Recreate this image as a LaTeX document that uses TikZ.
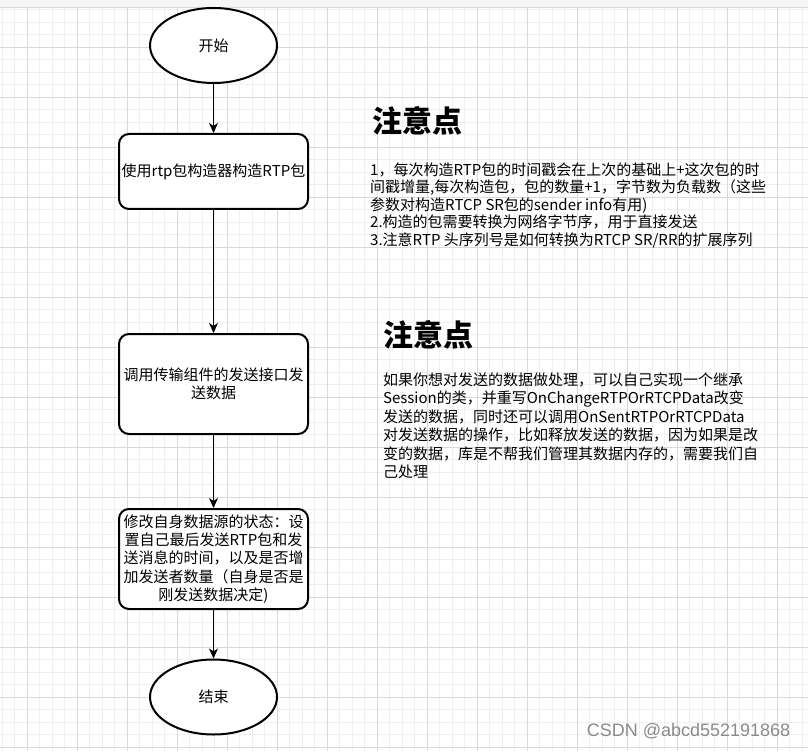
\documentclass[tikz,border=0pt]{standalone}
\usepackage{fontspec}
\newfontfamily\cjk{Noto Sans CJK SC}
\newfontfamily\wmfont{Liberation Sans}
\usetikzlibrary{shapes.geometric}
\usetikzlibrary{arrows.meta}
\definecolor{gridmajor}{HTML}{D9D9D9}
\definecolor{gridminor}{HTML}{EFEFEF}
\definecolor{topband}{HTML}{F6F6F6}
\definecolor{wmgray}{HTML}{8A8A8A}

\begin{document}
\begin{tikzpicture}[x=1pt, y=-1pt,
	term/.style = {draw=black, line width=2pt, fill=white, ellipse, minimum width=127pt, minimum height=75pt, inner sep=0pt, font=\cjk\fontsize{15}{18}\selectfont},
	proc/.style = {draw=black, line width=2pt, fill=white, rounded corners=10pt, minimum width=189pt, inner sep=2pt, align=center, font=\cjk\fontsize{15}{18.3}\selectfont},
	flow/.style = {line width=1.2pt, -{Stealth[length=10pt, width=9pt, inset=3pt]}},
	title/.style = {anchor=west, inner sep=0pt, font=\cjk\bfseries\fontsize{30}{36}\selectfont},
	note/.style = {anchor=north west, inner sep=0pt, align=left},
	minorline/.style = {draw=gridminor, line width=0.8pt},
	majorline/.style = {draw=gridmajor, line width=0.8pt}
]

% Canvas with the editor grid
\useasboundingbox (0,0) rectangle (808,751);
\fill[white] (0,0) rectangle (808,751);
\fill[topband] (0,0) rectangle (808,7);
\foreach \i in {0,...,64} {
  \draw[minorline] ({2+12.5*\i},7) -- ({2+12.5*\i},751);
}
\foreach \j in {0,...,59} {
  \draw[minorline] (0,{9.5+12.5*\j}) -- (808,{9.5+12.5*\j});
}
\foreach \i in {0,...,15} {
  \draw[majorline] ({27+50*\i},7) -- ({27+50*\i},751);
}
\foreach \j in {0,...,14} {
  \draw[majorline] (0,{47+50*\j}) -- (808,{47+50*\j});
}
\draw[majorline] (0,7) -- (808,7);

% Flow chart
\node[term] (start) at (213.5,45.5) {开始};
\node[proc, minimum height=75pt] (build) at (213.5,171.5) {使用rtp包构造器构造RTP包};
\node[proc, minimum height=100pt] (send) at (213.5,384) {调用传输组件的发送接口发\\送数据};
\node[proc, minimum height=100pt] (update) at (213.5,559) {修改自身数据源的状态：设\\置自己最后发送RTP包和发\\送消息的时间，以及是否增\\加发送者数量（自身是否是\\刚发送数据决定)};
\node[term] (stop) at (213.5,697) {结束};

\draw[flow] (start) -- (build);
\draw[flow] (build) -- (send);
\draw[flow] (send) -- (update);
\draw[flow] (update) -- (stop);

% Notes on the right
\node[title] (title1) at (372,121) {注意点};
\node[note, font=\cjk\fontsize{15}{17.5}\selectfont] (note1) at (370,162.5) {1，每次构造RTP包的时间戳会在上次的基础上+这次包的时\\
间戳增量,每次构造包，包的数量+1，字节数为负载数（这些\\
参数对构造RTCP SR包的sender info有用)\\
2.构造的包需要转换为网络字节序，用于直接发送\\
3.注意RTP 头序列号是如何转换为RTCP SR/RR的扩展序列};

\node[title] (title2) at (383,335) {注意点};
\node[note, font=\cjk\fontsize{15}{18.4}\selectfont] (note2) at (383,372.5) {如果你想对发送的数据做处理，可以自己实现一个继承\\
Session的类，并重写OnChangeRTPOrRTCPData改变\\
发送的数据，同时还可以调用OnSentRTPOrRTCPData\\
对发送数据的操作，比如释放发送的数据，因为如果是改\\
变的数据，库是不帮我们管理其数据内存的，需要我们自\\
己处理};

% Watermark
\node[font=\wmfont\fontsize{18}{20}\selectfont, text=wmgray, inner sep=0pt] (mark) at (688.5,731) {CSDN @abcd552191868};

\end{tikzpicture}
\end{document}
